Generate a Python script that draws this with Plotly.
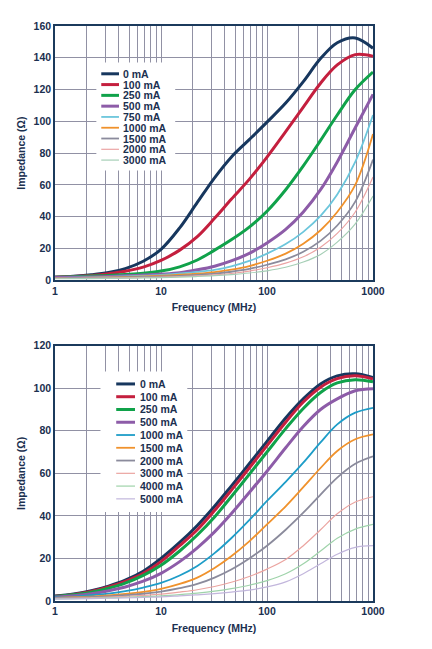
import plotly.graph_objects as go

# ---------------- data (read at E6-style, evenly log-spaced frequencies) ----------------
FREQ_MHZ = [1, 1.5, 2.2, 3.2, 4.6, 6.8, 10, 15, 22, 32, 46, 68, 100, 150, 220, 320, 460, 680, 1000]

# Top chart (impedance in ohms)
TOP_LABELS = ["0 mA", "100 mA", "250 mA", "500 mA", "750 mA", "1000 mA", "1500 mA", "2000 mA", "3000 mA"]
TOP_0MA    = [2.0, 2.6, 3.5, 4.9, 7.4, 12.0, 19.5, 33.0, 49.0, 64.5, 77.5, 88.5, 99.5, 111.5, 125.0, 139.5, 149.5, 152.5, 146.0]
TOP_100MA  = [2.0, 2.4, 3.1, 4.2, 5.7, 8.3, 12.5, 19.0, 27.5, 39.0, 51.0, 63.5, 77.5, 93.5, 109.0, 124.0, 135.5, 142.0, 141.0]
TOP_250MA  = [2.0, 2.3, 2.7, 3.1, 3.7, 4.5, 5.8, 8.5, 12.8, 19.0, 25.5, 33.5, 43.5, 57.0, 72.0, 88.0, 104.0, 120.0, 131.0]
TOP_500MA  = [1.8, 1.9, 2.1, 2.4, 2.8, 3.3, 3.9, 4.8, 6.6, 8.9, 12.2, 17.0, 23.5, 32.0, 43.0, 57.0, 74.5, 96.0, 117.0]
TOP_750MA  = [1.6, 1.7, 1.9, 2.1, 2.5, 2.9, 3.4, 4.3, 5.3, 6.6, 8.8, 12.2, 16.8, 22.8, 30.5, 40.5, 54.0, 74.5, 104.0]
TOP_1000MA = [1.5, 1.6, 1.75, 1.9, 2.2, 2.5, 2.9, 3.5, 4.2, 5.2, 6.7, 9.0, 12.3, 16.8, 23.0, 31.5, 43.0, 60.0, 92.0]
TOP_1500MA = [1.4, 1.45, 1.55, 1.7, 1.9, 2.1, 2.4, 2.8, 3.4, 4.2, 5.4, 7.2, 9.8, 13.2, 18.0, 24.8, 34.5, 49.5, 76.0]
TOP_2000MA = [1.2, 1.25, 1.35, 1.45, 1.6, 1.8, 2.0, 2.4, 2.8, 3.4, 4.3, 5.8, 7.9, 10.8, 14.8, 20.8, 29.5, 43.0, 65.0]
TOP_3000MA = [1.0, 1.05, 1.1, 1.2, 1.35, 1.5, 1.7, 2.0, 2.4, 2.9, 3.6, 4.6, 6.0, 8.2, 11.5, 16.3, 24.0, 35.5, 53.0]

# Bottom chart (impedance in ohms)
BOT_LABELS = ["0 mA", "100 mA", "250 mA", "500 mA", "1000 mA", "1500 mA", "2000 mA", "3000 mA", "4000 mA", "5000 mA"]
BOT_0MA    = [2.3, 3.3, 4.8, 7.0, 9.8, 14.0, 20.0, 27.5, 35.5, 44.5, 54.0, 64.5, 75.0, 86.0, 95.0, 102.0, 105.8, 106.8, 105.0]
BOT_100MA  = [2.2, 3.1, 4.5, 6.6, 9.2, 13.0, 18.5, 26.0, 33.5, 42.5, 52.0, 62.5, 73.0, 84.0, 93.5, 100.5, 104.5, 105.8, 104.3]
BOT_250MA  = [2.1, 2.9, 4.1, 6.0, 8.4, 12.0, 16.8, 23.5, 31.0, 39.5, 49.0, 59.5, 70.0, 81.0, 90.5, 98.0, 102.5, 104.0, 103.0]
BOT_500MA  = [1.9, 2.5, 3.4, 4.8, 6.6, 9.3, 13.0, 18.5, 25.0, 32.5, 41.0, 51.0, 61.0, 72.0, 82.0, 90.0, 95.0, 98.8, 99.8]
BOT_1000MA = [1.7, 2.1, 2.7, 3.5, 4.6, 6.3, 8.5, 12.0, 16.5, 22.5, 29.5, 38.0, 47.0, 56.0, 65.0, 74.5, 83.0, 88.5, 90.8]
BOT_1500MA = [1.5, 1.75, 2.1, 2.6, 3.3, 4.3, 5.7, 8.0, 11.0, 15.5, 21.0, 28.0, 36.0, 44.5, 53.5, 62.5, 70.5, 76.0, 78.3]
BOT_2000MA = [1.4, 1.6, 1.85, 2.2, 2.7, 3.4, 4.4, 6.0, 8.0, 11.0, 14.8, 20.0, 26.0, 33.5, 41.5, 50.0, 58.0, 64.5, 68.0]
BOT_3000MA = [1.2, 1.35, 1.55, 1.8, 2.2, 2.6, 3.2, 4.2, 5.3, 6.8, 8.8, 11.5, 15.0, 19.5, 26.0, 33.5, 41.0, 46.5, 49.0]
BOT_4000MA = [1.0, 1.15, 1.3, 1.5, 1.75, 2.05, 2.4, 3.0, 3.7, 4.6, 5.8, 7.4, 9.6, 12.8, 17.5, 23.5, 29.5, 33.8, 36.0]
BOT_5000MA = [0.9, 1.0, 1.15, 1.3, 1.5, 1.7, 1.9, 2.4, 2.9, 3.5, 4.2, 5.1, 6.6, 9.0, 12.8, 17.5, 22.0, 25.2, 26.0]

X_TICK_LABELS = {1: "1", 10: "10", 100: "100", 1000: "1000"}

# ---------------- styles ----------------
NAVY = "#1b3a5c"
GRID = "#9191a4"
TXT = "#1b3050"
FONT = "Liberation Sans, Arial, sans-serif"

TOP_SERIES = [
    (TOP_0MA, "#17375e", 3.0), (TOP_100MA, "#c41f3e", 3.0), (TOP_250MA, "#10a24a", 3.0),
    (TOP_500MA, "#8d5ca8", 3.0), (TOP_750MA, "#6cc6dc", 1.8), (TOP_1000MA, "#f0922c", 1.8),
    (TOP_1500MA, "#8b8b9c", 1.8), (TOP_2000MA, "#eba4a4", 1.2), (TOP_3000MA, "#a6cfb6", 1.2),
]
BOT_SERIES = [
    (BOT_0MA, "#17375e", 3.0), (BOT_100MA, "#c41f3e", 3.0), (BOT_250MA, "#10a24a", 3.0),
    (BOT_500MA, "#8d5ca8", 3.0), (BOT_1000MA, "#1e9dc8", 1.8), (BOT_1500MA, "#f0922c", 1.8),
    (BOT_2000MA, "#8b8b9c", 1.8), (BOT_3000MA, "#eba4a0", 1.2), (BOT_4000MA, "#9fd3aa", 1.2),
    (BOT_5000MA, "#c2b6dc", 1.2),
]

fig = go.Figure()

for vals, col, w in TOP_SERIES:
    fig.add_trace(go.Scatter(x=FREQ_MHZ, y=vals, mode="lines", xaxis="x", yaxis="y",
                             line=dict(color=col, width=w, shape="spline", smoothing=1.0),
                             showlegend=False, hoverinfo="skip"))
for vals, col, w in BOT_SERIES:
    fig.add_trace(go.Scatter(x=FREQ_MHZ, y=vals, mode="lines", xaxis="x2", yaxis="y2",
                             line=dict(color=col, width=w, shape="spline", smoothing=1.0),
                             showlegend=False, hoverinfo="skip"))

tickvals = []
ticktext = []
for d in (1, 10, 100):
    for m in range(1, 10):
        v = m * d
        tickvals.append(v)
        ticktext.append(X_TICK_LABELS.get(v, ""))
tickvals.append(1000)
ticktext.append("1000")

def xax(anchor):
    return dict(type="log", range=[0, 3], domain=[0, 1], anchor=anchor,
                tickvals=tickvals, ticktext=ticktext, showgrid=True, gridcolor=GRID, gridwidth=1,
                showline=True, linecolor=NAVY, linewidth=1.5, mirror=True, ticks="",
                tickfont=dict(family=FONT, size=10.5, color=TXT, weight="bold"),
                title=dict(text="<b>Frequency (MHz)</b>", font=dict(family=FONT, size=10.5, color=TXT), standoff=8),
                zeroline=False)

def yax(anchor, rng, dom):
    return dict(range=rng, dtick=20, domain=dom, anchor=anchor, showgrid=True, gridcolor=GRID, gridwidth=1,
                showline=True, linecolor=NAVY, linewidth=1.5, mirror=True, ticks="",
                tickfont=dict(family=FONT, size=10.5, color=TXT, weight="bold"),
                title=dict(text="<b>Impedance (Ω)</b>", font=dict(family=FONT, size=10.5, color=TXT), standoff=6),
                zeroline=False)

# page body has an 8px margin, so the figure is 424x641 to end at the window edge
fig.update_layout(
    width=424, height=641, margin=dict(l=42, r=59, t=12, b=48),
    paper_bgcolor="white", plot_bgcolor="white", showlegend=False,
    xaxis=xax("y"), yaxis=yax("x", [0, 160], [0.5577, 1.0]),
    xaxis2=xax("y2"), yaxis2=yax("x2", [0, 120], [0.0, 0.4441]),
)

shapes = []
annotations = []

def add_legend(xr, yr, box, sw_x, txt_x, y0, dy, labels, series):
    shapes.append(dict(type="rect", xref=xr + " domain", yref=yr + " domain",
                       x0=box[0], x1=box[1], y0=box[2], y1=box[3],
                       fillcolor="white", line=dict(width=0), layer="above"))
    for i, (lab, (vals, col, w)) in enumerate(zip(labels, series)):
        y = y0 - i * dy
        shapes.append(dict(type="line", xref=xr + " domain", yref=yr + " domain",
                           x0=sw_x[0], x1=sw_x[1], y0=y, y1=y,
                           line=dict(color=col, width=w if w >= 1.5 else 1.2), layer="above"))
        annotations.append(dict(xref=xr + " domain", yref=yr + " domain", x=txt_x, y=y,
                                text="<b>" + lab + "</b>", showarrow=False, xanchor="left", yanchor="middle",
                                font=dict(family=FONT, size=10.5, color=TXT)))

# top legend (plot area in page pixels: x 50..373, y 20..277)
add_legend("x", "y", [0.130, 0.378, 0.432, 0.856], [0.1455, 0.2012], 0.2074,
           (277 - 68.3) / 257, 10.9 / 257, TOP_LABELS, TOP_SERIES)
# bottom legend (plot area in page pixels: x 50..373, y 343..601)
add_legend("x2", "y2", [0.143, 0.416, 0.349, 0.899], [0.1925, 0.2516], 0.261,
           (601 - 381.7) / 258, 12.9 / 258, BOT_LABELS, BOT_SERIES)

fig.update_layout(shapes=shapes, annotations=annotations)
fig.write_html("out.html")
